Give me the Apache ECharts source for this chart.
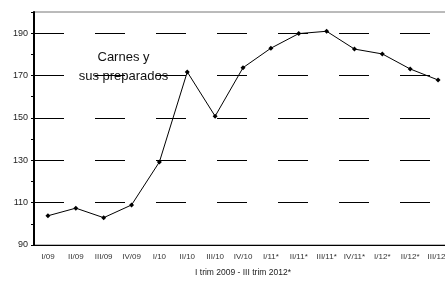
<!DOCTYPE html>
<html>
<head>
<meta charset="utf-8">
<script src="https://cdn.jsdelivr.net/npm/echarts@6/dist/echarts.min.js"></script>
<style>
  html, body { margin: 0; padding: 0; background: #fff; overflow: hidden; }
  /* the original plot runs a few px past the right edge */
  #chart { width: 453px; height: 282px; }
</style>
</head>
<body>
<div id="chart"></div>
<script>
// trimestres
const categories = ['I/09', 'II/09', 'III/09', 'IV/09', 'I/10', 'II/10', 'III/10', 'IV/10',
  'I/11*', 'II/11*', 'III/11*', 'IV/11*', 'I/12*', 'II/12*', 'III/12*']
const carnes = [103.8, 107.4, 102.9, 108.9, 129.2, 171.7, 150.8, 173.7,
  182.9, 189.8, 190.9, 182.5, 180.2, 173.1, 167.9]
const yTickLabels = [90, 110, 130, 150, 170, 190]

const font = 'Liberation Sans'
const chart = echarts.init(document.getElementById('chart'))

chart.setOption({
  animation: false,
  grid: {
    left: 34, top: 12, width: 418, height: 239,
    show: true, borderColor: '#777', borderWidth: 1
  },
  graphic: [{
    type: 'text',
    x: 123.5, y: 48,
    style: {
      text: 'Carnes y\nsus preparados',
      font: '13px ' + font,
      fill: '#111',
      textAlign: 'center',
      align: 'center',
      lineHeight: 19
    }
  }],
  xAxis: {
    type: 'category',
    data: categories,
    boundaryGap: true,
    name: 'I trim 2009 - III trim 2012*',
    nameLocation: 'middle',
    nameGap: 23,
    nameTextStyle: { fontFamily: font, fontSize: 8.5, color: '#222' },
    axisLine: { lineStyle: { color: '#000', width: 1 } },
    axisTick: { inside: true, length: 3, lineStyle: { color: '#000' } },
    axisLabel: { fontFamily: font, fontSize: 8, color: '#333', margin: 8, interval: 0 },
    splitLine: { show: false }
  },
  yAxis: {
    type: 'value',
    min: 90, max: 200, interval: 10,
    axisLine: { show: true, lineStyle: { color: '#000', width: 2 } },
    axisTick: { show: true, length: 3, lineStyle: { color: '#000' } },
    axisLabel: {
      fontFamily: font, fontSize: 9, color: '#222', margin: 6,
      formatter: v => yTickLabels.indexOf(v) >= 0 ? String(v) : ''
    },
    splitLine: {
      show: true,
      lineStyle: { color: ['#000', 'rgba(0,0,0,0)'], width: 1, type: [30, 31] }
    }
  },
  series: [{
    type: 'line',
    data: carnes,
    symbol: 'diamond',
    symbolSize: 5,
    itemStyle: { color: '#000' },
    lineStyle: { color: '#000', width: 1 }
  }]
})
</script>
</body>
</html>
